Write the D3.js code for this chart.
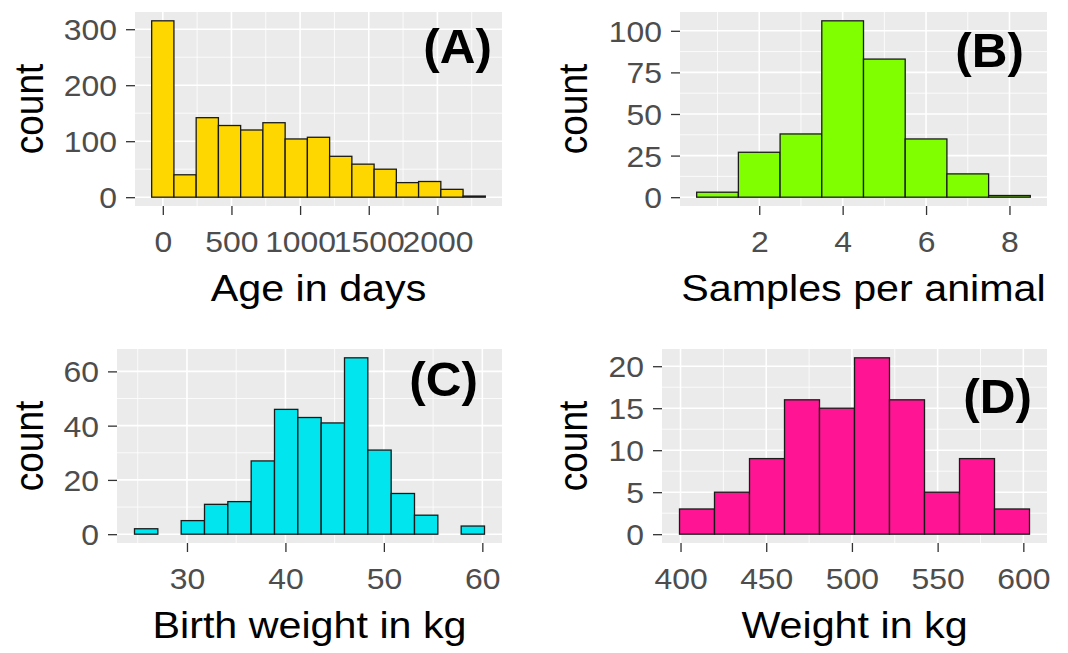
<!DOCTYPE html>
<html>
<head>
<meta charset="utf-8">
<script src="https://cdn.jsdelivr.net/npm/d3@7"></script>
<style>
  html, body { margin: 0; padding: 0; background: #ffffff; }
  svg { display: block; }
</style>
</head>
<body>
<svg id="chart" width="1068" height="653"></svg>
<script>
// ---- Data: histogram counts per bin (bins given by start + width) ----
const ageBinStart = -81;
const ageBinWidth = 162;
const ageCounts = [315, 40, 142, 128, 120, 133, 104, 107, 73, 59, 50, 26, 28, 14, 2];
const ageTicksX = [0, 500, 1000, 1500, 2000];
const ageTicksY = [0, 100, 200, 300];

const samplesBinStart = 0.5;
const samplesBinWidth = 1;
const samplesCounts = [3, 27, 38, 106, 83, 35, 14, 1];
const samplesTicksX = [2, 4, 6, 8];
const samplesTicksY = [0, 25, 50, 75, 100];

const birthBinStart = 24.67;
const birthBinWidth = 2.37;
const birthCounts = [2, 0, 5, 11, 12, 27, 46, 43, 41, 65, 31, 15, 7, 0, 3];
const birthTicksX = [30, 40, 50, 60];
const birthTicksY = [0, 20, 40, 60];

const weightBinStart = 399.4;
const weightBinWidth = 20.42;
const weightCounts = [3, 5, 9, 16, 15, 21, 16, 5, 9, 3];
const weightTicksX = [400, 450, 500, 550, 600];
const weightTicksY = [0, 5, 10, 15, 20];

const panelTags = ["(A)", "(B)", "(C)", "(D)"];
const xTitles = ["Age in days", "Samples per animal", "Birth weight in kg", "Weight in kg"];
const yTitle = "count";

// ---- Layout and styling ----
const FONT = "'Liberation Sans', Arial, Helvetica, sans-serif";
const SX = 1.1; // horizontal glyph stretch

const panels = [
  { start: ageBinStart, width: ageBinWidth, counts: ageCounts, tx: ageTicksX, ty: ageTicksY,
    fill: "#FFD700", box: [135, 502, 12, 206], tagPos: [492, 63], ytitleX: 43 },
  { start: samplesBinStart, width: samplesBinWidth, counts: samplesCounts, tx: samplesTicksX, ty: samplesTicksY,
    fill: "#7FFF00", box: [680, 1047, 12, 206], tagPos: [1024, 67], ytitleX: 587 },
  { start: birthBinStart, width: birthBinWidth, counts: birthCounts, tx: birthTicksX, ty: birthTicksY,
    fill: "#00E5EE", box: [117, 502, 349, 543], tagPos: [478, 396], ytitleX: 43 },
  { start: weightBinStart, width: weightBinWidth, counts: weightCounts, tx: weightTicksX, ty: weightTicksY,
    fill: "#FF1493", box: [662, 1047, 349, 543], tagPos: [1032, 413], ytitleX: 587 }
];

const svg = d3.select("#chart");
svg.append("rect").attr("width", 1068).attr("height", 653).attr("fill", "#ffffff");

function addText(g, x, y, str, o) {
  const rot = o.rotate ? ` rotate(${o.rotate})` : "";
  return g.append("text")
    .attr("transform", `translate(${x},${y}) scale(${o.sx || SX},1)${rot}`)
    .attr("text-anchor", o.anchor || "middle")
    .attr("font-family", FONT)
    .attr("font-size", o.size)
    .attr("font-weight", o.weight || "normal")
    .attr("fill", o.fill || "#000")
    .text(str);
}

// minor breaks: midpoints between majors, extended one step each side, kept inside the domain
function minorBreaks(majors, domain) {
  const step = majors[1] - majors[0];
  const out = [];
  for (let v = majors[0] - step / 2; v <= majors[majors.length - 1] + step / 2 + 1e-9; v += step) {
    if (v >= domain[0] && v <= domain[1]) out.push(v);
  }
  return out;
}

panels.forEach((p, i) => {
  const [x0, x1, y0, y1] = p.box;
  const n = p.counts.length;
  const lo = p.start, hi = p.start + n * p.width;
  const xpad = (hi - lo) * 0.05;
  const ymax = d3.max(p.counts);
  const xDomain = [lo - xpad, hi + xpad];
  const yDomain = [-ymax * 0.05, ymax * 1.05];

  const x = d3.scaleLinear().domain(xDomain).range([x0, x1]);
  const y = d3.scaleLinear().domain(yDomain).range([y1, y0]);

  const g = svg.append("g");

  // panel background
  g.append("rect").attr("x", x0).attr("y", y0).attr("width", x1 - x0).attr("height", y1 - y0)
    .attr("fill", "#EBEBEB");

  // grid lines
  const grid = g.append("g").attr("stroke", "#ffffff").attr("fill", "none");
  minorBreaks(p.tx, xDomain).forEach(v => {
    grid.append("line").attr("x1", x(v)).attr("x2", x(v)).attr("y1", y0).attr("y2", y1).attr("stroke-width", 0.8);
  });
  minorBreaks(p.ty, yDomain).forEach(v => {
    grid.append("line").attr("y1", y(v)).attr("y2", y(v)).attr("x1", x0).attr("x2", x1).attr("stroke-width", 0.8);
  });
  p.tx.forEach(v => {
    grid.append("line").attr("x1", x(v)).attr("x2", x(v)).attr("y1", y0).attr("y2", y1).attr("stroke-width", 1.6);
  });
  p.ty.forEach(v => {
    grid.append("line").attr("y1", y(v)).attr("y2", y(v)).attr("x1", x0).attr("x2", x1).attr("stroke-width", 1.6);
  });

  // histogram bars
  g.append("g").selectAll("rect")
    .data(p.counts)
    .join("rect")
    .attr("x", (d, k) => x(p.start + k * p.width))
    .attr("width", (d, k) => x(p.start + (k + 1) * p.width) - x(p.start + k * p.width))
    .attr("y", d => y(d))
    .attr("height", d => y(0) - y(d))
    .attr("fill", p.fill)
    .attr("stroke", "#1a1a1a")
    .attr("stroke-width", 1.3);

  // x axis
  g.append("g")
    .attr("transform", `translate(0,${y1})`)
    .call(d3.axisBottom(x).tickValues(p.tx).tickSize(9).tickSizeOuter(0).tickFormat(d3.format("d")))
    .call(a => a.select(".domain").remove())
    .call(a => a.selectAll(".tick line").attr("stroke", "#333333").attr("stroke-width", 1.3))
    .call(a => a.selectAll(".tick text")
      .attr("y", null).attr("dy", null)
      .attr("transform", `translate(0,46) scale(${SX},1)`)
      .attr("font-family", FONT).attr("font-size", 29).attr("fill", "#4D4D4D"));

  // y axis
  g.append("g")
    .attr("transform", `translate(${x0},0)`)
    .call(d3.axisLeft(y).tickValues(p.ty).tickSize(9).tickSizeOuter(0).tickFormat(d3.format("d")))
    .call(a => a.select(".domain").remove())
    .call(a => a.selectAll(".tick line").attr("stroke", "#333333").attr("stroke-width", 1.3))
    .call(a => a.selectAll(".tick text")
      .attr("x", null).attr("dy", "0.36em")
      .attr("transform", `translate(-18,0) scale(${SX},1)`)
      .attr("font-family", FONT).attr("font-size", 29).attr("fill", "#4D4D4D"));

  // axis titles
  addText(svg, (x0 + x1) / 2, y1 + 95, xTitles[i], { size: 37.5 });
  addText(svg, p.ytitleX, (y0 + y1) / 2, yTitle, { size: 37, rotate: -90 });

  // panel tag
  addText(svg, p.tagPos[0], p.tagPos[1], panelTags[i], { size: 48, weight: "bold", anchor: "end", sx: 1.03 });
});
</script>
</body>
</html>
